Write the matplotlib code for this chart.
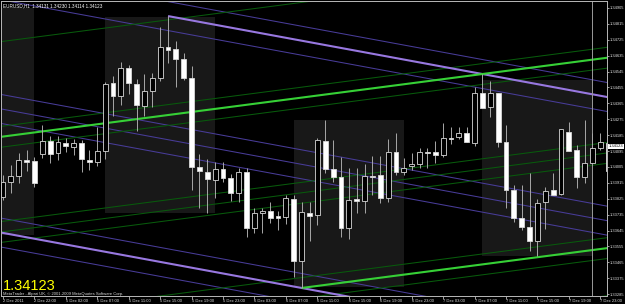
import numpy as np
import matplotlib
matplotlib.use('Agg')
import matplotlib.pyplot as plt
from matplotlib.patches import Rectangle
from matplotlib.transforms import blended_transform_factory

# EURUSD H1 bars (bar index 0 = 2 Dec 2011 18:00)
opens = [1.33835, 1.33920, 1.33954, 1.34044, 1.34039, 1.34078, 1.34152, 1.34084, 1.34141, 1.34118,
         1.34141, 1.34044, 1.34033, 1.34095, 1.34480, 1.34407, 1.34565, 1.34475, 1.34350, 1.34435,
         1.34509, 1.34684, 1.34673, 1.34616, 1.34509, 1.34005, 1.33976, 1.33931, 1.33993, 1.33942,
         1.33858, 1.33976, 1.33660, 1.33744, 1.33756, 1.33727, 1.33722, 1.33824, 1.33473, 1.33744,
         1.33733, 1.34152, 1.33993, 1.33948, 1.33660, 1.33824, 1.33812, 1.33954, 1.33959, 1.33829,
         1.34090, 1.33976, 1.34010, 1.34022, 1.34090, 1.34090, 1.34073, 1.34169, 1.34175, 1.34197,
         1.34141, 1.34424, 1.34344, 1.34424, 1.34146, 1.33875, 1.33716, 1.33665, 1.33586, 1.33807,
         1.33875, 1.33852, 1.34203, 1.34101, 1.33948, 1.34027, 1.34112, 1.34141]
highs = [1.33960, 1.34016, 1.34084, 1.34101, 1.34061, 1.34243, 1.34180, 1.34180, 1.34169, 1.34163,
         1.34158, 1.34101, 1.34231, 1.34486, 1.34520, 1.34599, 1.34582, 1.34503, 1.34531, 1.34537,
         1.34797, 1.34859, 1.34718, 1.34650, 1.34576, 1.34078, 1.34050, 1.34033, 1.34033, 1.33965,
         1.33999, 1.33999, 1.33773, 1.33773, 1.33807, 1.33756, 1.33846, 1.33846, 1.33807, 1.33807,
         1.34169, 1.34271, 1.34158, 1.34061, 1.33999, 1.33999, 1.34022, 1.34067, 1.34067, 1.34163,
         1.34197, 1.34056, 1.34084, 1.34112, 1.34112, 1.34152, 1.34254, 1.34231, 1.34231, 1.34231,
         1.34458, 1.34531, 1.34492, 1.34424, 1.34243, 1.33903, 1.33903, 1.33971, 1.33824, 1.33892,
         1.33971, 1.34220, 1.34260, 1.34129, 1.34271, 1.34197, 1.34197, 1.34231]
lows = [1.33818, 1.33858, 1.33914, 1.33982, 1.33892, 1.34056, 1.34027, 1.34044, 1.34090, 1.34073,
        1.33976, 1.33988, 1.34010, 1.34050, 1.34293, 1.34356, 1.34418, 1.34209, 1.34293, 1.34344,
        1.34492, 1.34593, 1.34458, 1.34497, 1.33875, 1.33773, 1.33744, 1.33829, 1.33920, 1.33812,
        1.33807, 1.33609, 1.33631, 1.33631, 1.33688, 1.33648, 1.33682, 1.33382, 1.33320, 1.33586,
        1.33677, 1.33971, 1.33920, 1.33609, 1.33597, 1.33744, 1.33744, 1.33846, 1.33801, 1.33807,
        1.33959, 1.33959, 1.33988, 1.33999, 1.33999, 1.34027, 1.34061, 1.34135, 1.34163, 1.34146,
        1.34124, 1.34339, 1.34288, 1.34118, 1.33773, 1.33693, 1.33648, 1.33529, 1.33501, 1.33654,
        1.33846, 1.33846, 1.34095, 1.33886, 1.33914, 1.34027, 1.34101, 1.33982]
closes = [1.33920, 1.33954, 1.34044, 1.34033, 1.33914, 1.34152, 1.34078, 1.34146, 1.34124, 1.34141,
          1.34050, 1.34033, 1.34095, 1.34475, 1.34407, 1.34565, 1.34480, 1.34356, 1.34435, 1.34509,
          1.34684, 1.34667, 1.34616, 1.34509, 1.34005, 1.33982, 1.33937, 1.33993, 1.33942, 1.33858,
          1.33976, 1.33660, 1.33744, 1.33756, 1.33716, 1.33716, 1.33829, 1.33473, 1.33750, 1.33727,
          1.34158, 1.33993, 1.33948, 1.33660, 1.33818, 1.33812, 1.33954, 1.33948, 1.33829, 1.34090,
          1.33976, 1.33999, 1.34022, 1.34090, 1.34084, 1.34073, 1.34169, 1.34163, 1.34197, 1.34146,
          1.34424, 1.34339, 1.34424, 1.34146, 1.33875, 1.33716, 1.33665, 1.33586, 1.33801, 1.33869,
          1.33846, 1.34220, 1.34095, 1.33948, 1.34027, 1.34112, 1.34146, 1.33982]

time_labels = ["2 Dec 2011", "2 Dec 22:00", "5 Dec 02:00", "5 Dec 07:00", "5 Dec 11:00",
               "5 Dec 15:00", "5 Dec 19:00", "5 Dec 23:00", "6 Dec 03:00", "6 Dec 07:00",
               "6 Dec 11:00", "6 Dec 15:00", "6 Dec 19:00", "6 Dec 23:00", "7 Dec 03:00",
               "7 Dec 07:00", "7 Dec 11:00", "7 Dec 15:00", "7 Dec 19:00", "7 Dec 23:00"]
price_ticks = [1.33285, 1.33375, 1.33465, 1.33555, 1.33645, 1.33735, 1.33825, 1.33915, 1.34005,
               1.34095, 1.34185, 1.34275, 1.34365, 1.34455, 1.34545, 1.34635, 1.34725, 1.34815,
               1.34905]
last_price = 1.34123
header = "EURUSD,H1  1.34131 1.34230 1.34114 1.34123"

# session boxes: (first bar, last bar, high, low)
sessions = [(-1, 4, 1.34905, 1.33620),
            (13, 27, 1.34854, 1.33744),
            (37, 51, 1.34271, 1.33326),
            (61, 75, 1.34497, 1.33501)]

# channel anchors (bar, price)
purple_top = [(21, 1.34859), (61, 1.34531)]
purple_low = (38, 1.33320)
green_top = [(0, 1.34177), (61, 1.34531)]
green_low = (38, 1.33320)
purple_side = 0.00082
green_side = 0.00059
green_extra = [0.5, -0.25]   # extra parallels, fraction of channel width

x_lo, x_hi = -0.25, 76.85
y_lo, y_hi = 1.332746, 1.349443

fig = plt.figure(figsize=(6.25, 3.04), dpi=100, facecolor='black')
ax = fig.add_axes([1 / 625, 8 / 304, 606 / 625, 295 / 304])
ax.set_facecolor('black')
ax.set_xlim(x_lo, x_hi)
ax.set_ylim(y_lo, y_hi)

for b0, b1, hi, lo in sessions:
    ax.add_patch(Rectangle((b0, lo), b1 - b0, hi - lo, facecolor='#181818',
                           edgecolor='none', zorder=0))


def draw_line(x0, y0, slope, start=None, **kw):
    xs = np.array([x_lo - 1 if start is None else start, x_hi + 1])
    ax.plot(xs, y0 + slope * (xs - x0), solid_capstyle='butt', **kw)


thin_purple = dict(color='#483c98', lw=0.75, zorder=1)
thin_green = dict(color='#085a0c', lw=0.75, zorder=1)

# descending purple channel
(pa, pp), (pb, pq) = purple_top
ps = (pq - pp) / (pb - pa)
p_width = (pp + ps * (purple_low[0] - pa)) - purple_low[1]
for base in (pp, pp - p_width / 2, pp - p_width):
    for d in (-purple_side, 0, purple_side):
        if d == 0 and base != pp - p_width / 2:
            continue
        draw_line(pa, base + d, ps, **thin_purple)
draw_line(pa, pp, ps, start=pa, color='#9878e0', lw=1.5, zorder=2)
draw_line(pa, pp - p_width, ps, color='#9878e0', lw=1.5, zorder=2)

# rising green channel
(ga, gp), (gb, gq) = green_top
gs = (gq - gp) / (gb - ga)
g_width = (gp + gs * (green_low[0] - ga)) - green_low[1]
for base in (gp, gp - g_width / 2, gp - g_width):
    for d in (-green_side, 0, green_side):
        if d == 0 and base != gp - g_width / 2:
            continue
        draw_line(ga, base + d, gs, **thin_green)
for f in green_extra:
    draw_line(ga, gp + f * g_width if f > 0 else gp - g_width + f * g_width, gs, **thin_green)
draw_line(ga, gp, gs, color='#36d036', lw=1.5, zorder=2)
draw_line(ga, gp - g_width, gs, start=green_low[0], color='#36d036', lw=1.5, zorder=2)

ax.axvline(75, color='#9a9a9a', lw=0.7, zorder=2)

# candles
body_w = 0.62
for i, (o, h, l, c) in enumerate(zip(opens, highs, lows, closes)):
    ax.vlines(i, l, h, color='#a8a8a8', lw=0.7, zorder=3)
    top, bot = max(o, c), min(o, c)
    if top - bot < 0.00002:
        ax.hlines(o, i - body_w / 2, i + body_w / 2, color='#e0e0e0', lw=0.8, zorder=4)
        continue
    face = 'black' if c > o else 'white'
    ax.add_patch(Rectangle((i - body_w / 2, bot), body_w, top - bot, facecolor=face,
                           edgecolor='#d8d8d8', lw=0.6, zorder=4))

# axes
for side in ('left', 'top', 'right', 'bottom'):
    ax.spines[side].set_color('#b8b8b8')
    ax.spines[side].set_linewidth(0.7)
ax.yaxis.tick_right()
ax.set_yticks(price_ticks)
ax.set_yticklabels(['%.5f' % p for p in price_ticks])
ax.set_xticks(range(0, 4 * len(time_labels), 4))
ax.set_xticklabels(time_labels, ha='left')
ax.tick_params(axis='y', colors='#e0e0e0', labelsize=2.9, length=1.5, width=0.5, pad=0.3)
ax.tick_params(axis='x', colors='#e0e0e0', labelsize=3.0, length=2, width=0.5, pad=0.5)
for lab in ax.get_xticklabels() + ax.get_yticklabels():
    lab.set_family('Liberation Sans')

trans = blended_transform_factory(ax.transAxes, ax.transData)
ax.text(1.0025, last_price, '%.5f' % last_price, transform=trans, fontsize=2.9,
        family='Liberation Sans', color='black', va='center', ha='left', zorder=10,
        bbox=dict(boxstyle='square,pad=0.15', facecolor='white', edgecolor='none'),
        clip_on=False)

fig.text(3 / 625, 1 - 7.5 / 304, header, fontsize=3.3, color='white',
         family='Liberation Sans', va='baseline')
fig.text(3 / 625, 1 - 289.5 / 304, '%.5f' % last_price, fontsize=10.5, color='#ffff00',
         family='Liberation Sans', va='baseline')
fig.text(3 / 625, 1 - 294.5 / 304,
         'MetaTrader - Alpari UK, \u00a9 2001-2009 MetaQuotes Software Corp.',
         fontsize=3.0, color='#d8d8d8', family='Liberation Sans', va='baseline')

fig.savefig('out.png', dpi=100, facecolor='black')
